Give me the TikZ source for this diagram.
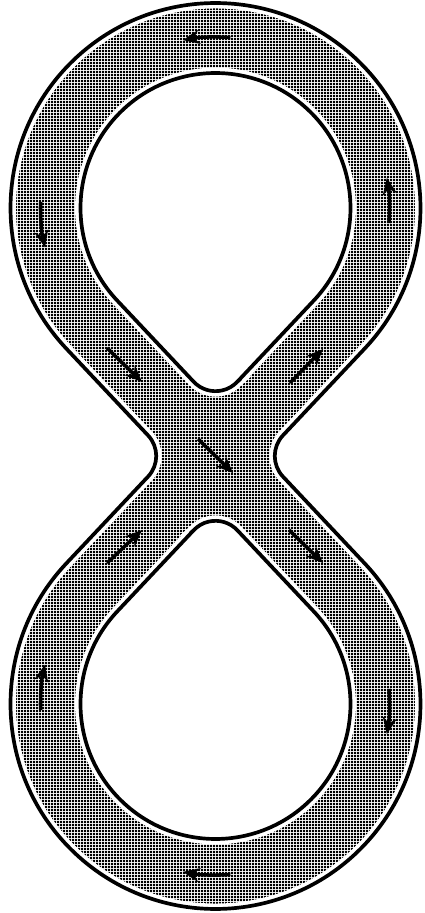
\documentclass[tikz,border=0pt]{standalone}
\usepackage{tikz}
\usetikzlibrary{arrows.meta,patterns}

% fine dot screen for the track surface
\pgfdeclarepatternformonly{halftone}{\pgfqpoint{0pt}{0pt}}{\pgfqpoint{1.7pt}{1.7pt}}{\pgfqpoint{1.7pt}{1.7pt}}{%
  \pgfpathrectangle{\pgfqpoint{0pt}{0pt}}{\pgfqpoint{1.2pt}{1.2pt}}%
  \pgfusepath{fill}}

\begin{document}
\begin{tikzpicture}[
      x=0.02cm, y=0.02cm,
      surface/.style = {pattern=halftone, pattern color=black, even odd rule},
      halo/.style = {draw=white, line width=6.2pt},
      rim/.style = {draw=black, line width=2.1pt},
      flow/.style = {-{Stealth[length=9.5pt,width=8pt]}, line width=2pt, black}
    ]
    \useasboundingbox (-215.5,-457) rectangle (209.5,456);
    % outline of the figure eight and its two holes
    \def\outerrim{(149.26,107.48) arc[start angle=-43.27, end angle=223.27, radius=205]
      -- (-67.43,20.56) arc[start angle=43.27, end angle=-43.27, radius=30]
      -- (-149.26,-107.48) arc[start angle=136.73, end angle=403.27, radius=205]
      -- (67.43,-20.56) arc[start angle=223.27, end angle=136.73, radius=30] -- cycle}
    \def\upperhole{(21.84,74.26) -- (98.29,155.46) arc[start angle=-43.27, end angle=223.27, radius=135]
      -- (-21.84,74.26) arc[start angle=223.27, end angle=316.73, radius=30] -- cycle}
    \def\lowerhole{(-21.84,-74.26) -- (-98.29,-155.46) arc[start angle=136.73, end angle=403.27, radius=135]
      -- (21.84,-74.26) arc[start angle=43.27, end angle=136.73, radius=30] -- cycle}
    \path[surface] \outerrim \upperhole \lowerhole;
    \path[halo] \outerrim \upperhole \lowerhole;
    \path[rim] \outerrim \upperhole \lowerhole;
    % direction of travel
    \draw[flow] ([shift={(0,248)}]85:171) arc[start angle=85, end angle=101, radius=171];
    \draw[flow] ([shift={(0,248)}]178:175) arc[start angle=178, end angle=193, radius=175];
    \draw[flow] ([shift={(0,248)}]-5:174) arc[start angle=-5, end angle=10, radius=174];
    \draw[flow] (-108.5,108) -- (-73.5,74);
    \draw[flow] (74.5,73) -- (107.5,107);
    \draw[flow] (-17.5,17) -- (17.5,-17);
    \draw[flow] (-108.5,-107) -- (-73.5,-74);
    \draw[flow] (73.5,-74) -- (107.5,-107);
    \draw[flow] ([shift={(0,-248)}]182:175) arc[start angle=182, end angle=167, radius=175];
    \draw[flow] ([shift={(0,-248)}]5:174) arc[start angle=5, end angle=-10, radius=174];
    \draw[flow] ([shift={(0,-248)}]275:171) arc[start angle=275, end angle=259, radius=171];
  \end{tikzpicture}
\end{document}
